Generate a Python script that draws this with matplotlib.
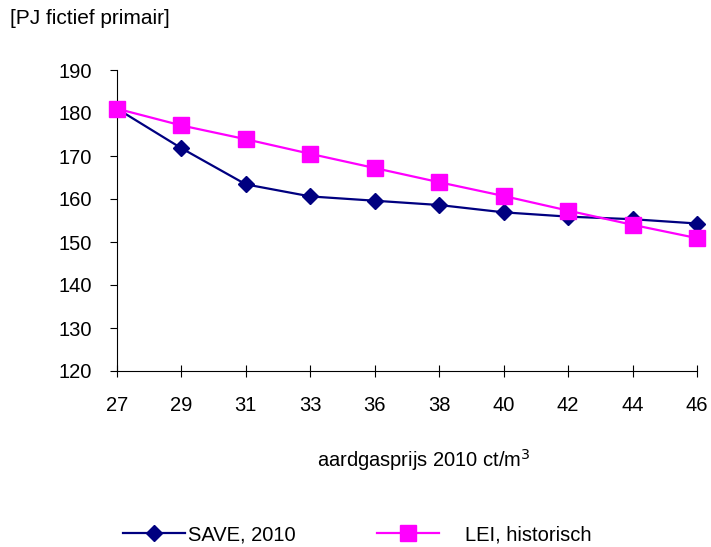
import matplotlib.pyplot as plt

plt.rcParams['font.family'] = ['Liberation Sans', 'DejaVu Sans']

# gegevens
prijzen = ['27', '29', '31', '33', '36', '38', '40', '42', '44', '46']
save_2010 = [181.0, 171.8, 163.4, 160.6, 159.6, 158.6, 156.9, 155.9, 155.3, 154.3]
lei_historisch = [181.0, 177.1, 173.9, 170.5, 167.2, 163.9, 160.7, 157.3, 154.0, 150.9]
y_ticks = [120, 130, 140, 150, 160, 170, 180, 190]

fs = 14.5

fig = plt.figure(figsize=(7.11, 5.47), dpi=100)
ax = fig.add_axes([117 / 711, 1 - 371 / 547, 580 / 711, 301 / 547])

x = range(len(prijzen))
lijn1, = ax.plot(x, save_2010, color='#000080', lw=1.6, marker='D', ms=8.2,
                 label='SAVE, 2010', zorder=3, clip_on=False)
lijn2, = ax.plot(x, lei_historisch, color='#FF00FF', lw=1.6, marker='s', ms=11.5,
                 label='LEI, historisch', zorder=4, clip_on=False)

ax.set_xlim(0, len(prijzen) - 1)
ax.set_ylim(120, 190)
ax.set_yticks(y_ticks)
ax.set_xticks(list(x))
ax.set_xticklabels(prijzen)

for kant in ['top', 'right']:
    ax.spines[kant].set_visible(False)
for kant in ['left', 'bottom']:
    ax.spines[kant].set_linewidth(0.8)

ax.tick_params(axis='y', direction='out', length=5, width=0.8, pad=13, labelsize=fs)
ax.tick_params(axis='x', direction='inout', length=8, width=0.8, pad=14, labelsize=fs)

fig.text(10 / 711, 1 - 18 / 547, '[PJ fictief primair]', fontsize=fs + 0.5,
         ha='left', va='center')
fig.text(424 / 711, 1 - 460 / 547, 'aardgasprijs 2010 ct/m$^3$', fontsize=fs,
         ha='center', va='center')

# legenda: twee losse stukken zoals in het origineel
leg1 = fig.legend(handles=[lijn1], loc='center left',
                  bbox_to_anchor=(123 / 711, 1 - 535 / 547), frameon=False,
                  fontsize=fs, handlelength=3.1, handletextpad=0.15,
                  borderpad=0, borderaxespad=0)
leg2 = fig.legend(handles=[lijn2], loc='center left',
                  bbox_to_anchor=(377 / 711, 1 - 535 / 547), frameon=False,
                  fontsize=fs, handlelength=3.1, handletextpad=1.25,
                  borderpad=0, borderaxespad=0)

fig.savefig('out.png', dpi=100)
